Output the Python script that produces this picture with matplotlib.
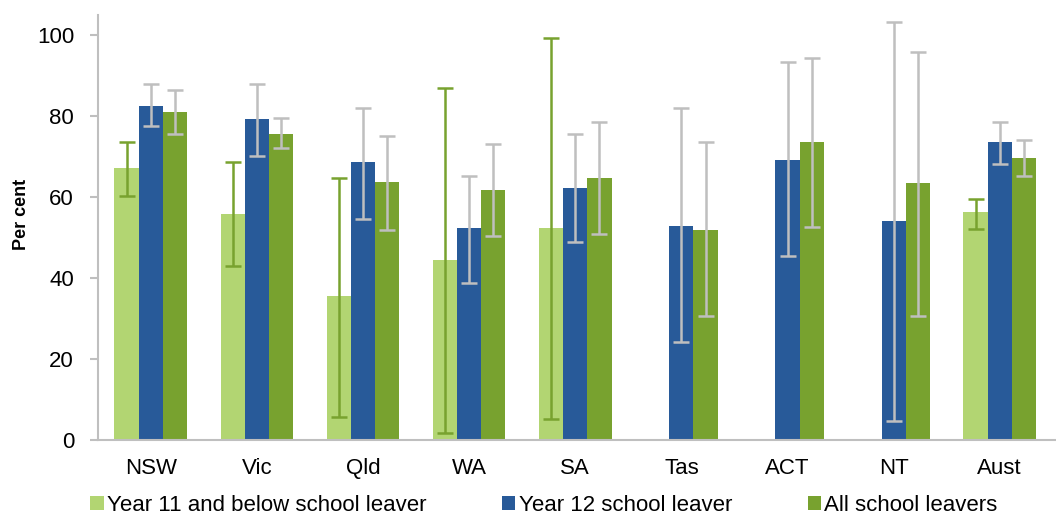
import numpy as np
import matplotlib
matplotlib.use("Agg")
import matplotlib.pyplot as plt
from matplotlib.patches import Patch

plt.rcParams['font.family'] = ['Liberation Sans', 'DejaVu Sans']

states = ["NSW", "Vic", "Qld", "WA", "SA", "Tas", "ACT", "NT", "Aust"]

series_names = ["Year 11 and below school leaver", "Year 12 school leaver", "All school leavers"]

# Per cent, with 95% confidence interval bounds (None = not published)
yr11_val = [67.3, 55.9, 35.6, 44.5, 52.4, 0.0, 0.0, 0.0, 56.4]
yr11_lo = [60.2, 42.9, 5.7, 1.7, 5.3, None, None, None, 52.2]
yr11_hi = [73.6, 68.6, 64.6, 87.0, 99.3, None, None, None, 59.6]

yr12_val = [82.6, 79.2, 68.7, 52.4, 62.3, 52.9, 69.2, 54.0, 73.7]
yr12_lo = [77.6, 70.1, 54.7, 38.8, 48.8, 24.1, 45.4, 4.8, 68.1]
yr12_hi = [87.9, 87.9, 82.0, 65.2, 75.5, 82.0, 93.4, 103.3, 78.5]

all_val = [81.1, 75.7, 63.8, 61.8, 64.8, 51.9, 73.7, 63.4, 69.7]
all_lo = [75.6, 72.1, 51.8, 50.3, 50.8, 30.6, 52.7, 30.6, 65.2]
all_hi = [86.5, 79.6, 75.0, 73.0, 78.5, 73.5, 94.3, 95.9, 74.1]

colors = ["#b2d572", "#285a99", "#78a22f"]
err_colors = ["#78a22f", "#bfbfbf", "#bfbfbf"]

fig = plt.figure(figsize=(10.56, 5.15), dpi=100)
ax = fig.add_axes([0.0925, 0.1456, 0.9065, 0.8254])

x = np.arange(len(states))
width = 0.228
offsets = [-width, 0.0, width]

data = [(yr11_val, yr11_lo, yr11_hi), (yr12_val, yr12_lo, yr12_hi), (all_val, all_lo, all_hi)]

for i, (vals, lo, hi) in enumerate(data):
    pos = x + offsets[i]
    ax.bar(pos, vals, width=width, color=colors[i], edgecolor="none", zorder=2)
    idx = [k for k in range(len(vals)) if lo[k] is not None]
    v = np.array([vals[k] for k in idx])
    l = np.array([lo[k] for k in idx])
    h = np.array([hi[k] for k in idx])
    ax.errorbar(pos[idx], v, yerr=[v - l, h - v], fmt="none", ecolor=err_colors[i],
                elinewidth=1.8, capsize=6, capthick=1.8, zorder=3)

ax.set_xlim(-0.5, len(states) - 0.5 + 0.02)
ax.set_ylim(0, 105)
ax.set_yticks([0, 20, 40, 60, 80, 100])
ax.set_xticks(x)
ax.set_xticklabels(states)

for s in ["top", "right"]:
    ax.spines[s].set_visible(False)
for s in ["left", "bottom"]:
    ax.spines[s].set_color("#bfbfbf")
    ax.spines[s].set_linewidth(1.5)

ax.tick_params(axis="y", length=6, width=1.5, color="#bfbfbf", labelsize=16, pad=11)
ax.tick_params(axis="x", length=0, labelsize=16, pad=13)

ax.set_ylabel("Per cent", fontsize=13, fontweight="bold")
ax.yaxis.set_label_coords(-0.071, 0.53)

handles = [Patch(facecolor=c, edgecolor="none") for c in colors]
fig.legend(handles, series_names, loc="center", bbox_to_anchor=(0.515, 0.019), ncol=3,
           frameon=False, fontsize=16, handlelength=0.6, handleheight=0.6,
           handletextpad=0.15, columnspacing=3.4, borderpad=0.1)

fig.savefig("out.png", dpi=100)
